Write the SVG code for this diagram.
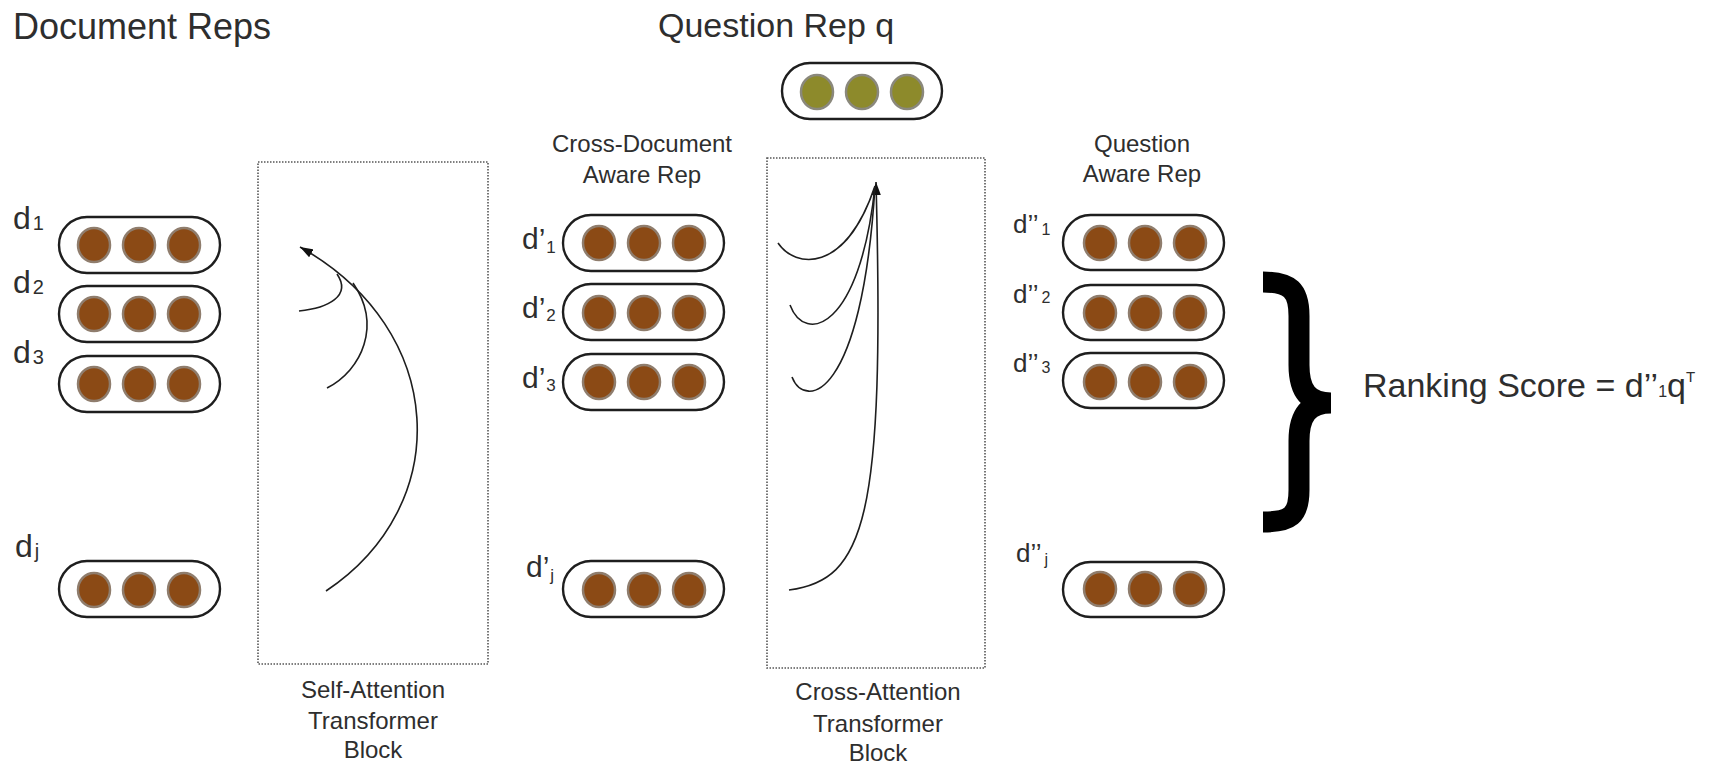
<svg xmlns="http://www.w3.org/2000/svg" width="1721" height="764" viewBox="0 0 1721 764">
<defs>
<style>
text{font-family:"Liberation Sans",Arial,sans-serif;fill:#2e2e2e}
.h1{font-size:36px}
.h2{font-size:34px}
.cap{font-size:24px;text-anchor:middle}
.l0{font-size:32px}
.l1{font-size:30px}
.l2{font-size:26px}
.s0{font-size:20px}
.s1{font-size:17px}
.s2{font-size:16px}
.pill{fill:#fff;stroke:#1e1e1e;stroke-width:2.4}
.dot{fill:#8b4a15;stroke:#8f7d6d;stroke-width:2.5}
.qdot{fill:#8d8a2b;stroke:#8a887c;stroke-width:2.5}
.box{fill:none;stroke:#555;stroke-width:1.6;stroke-dasharray:1.5 1.5}
.conn{fill:none;stroke:#1e1e1e;stroke-width:1.6}
</style>
<marker id="ah" markerUnits="userSpaceOnUse" markerWidth="14" markerHeight="10" refX="13" refY="5" orient="auto">
<path d="M0,0.5 L13,5 L0,9.5 z" fill="#111"/>
</marker>
<g id="trio">
<ellipse class="dot" cx="35" cy="0" rx="16" ry="17"/>
<ellipse class="dot" cx="80" cy="0" rx="16" ry="17"/>
<ellipse class="dot" cx="125" cy="0" rx="16" ry="17"/>
</g>
</defs>
<rect width="1721" height="764" fill="#fff"/>

<g id="title-doc"><text class="h1" x="13" y="39">Document Reps</text></g>
<g id="title-q"><text class="h2" x="658" y="37">Question Rep q</text></g>

<g id="q-rep">
<rect class="pill" x="782" y="63" width="160" height="56" rx="28"/>
<ellipse class="qdot" cx="817" cy="92" rx="16" ry="17"/>
<ellipse class="qdot" cx="862" cy="92" rx="16" ry="17"/>
<ellipse class="qdot" cx="907" cy="92" rx="16" ry="17"/>
</g>

<!-- Document reps -->
<g id="d1">
<text class="l0" x="13" y="229">d<tspan class="s0" dx="2" dy="1">1</tspan></text>
<rect class="pill" x="59" y="217" width="161" height="56" rx="28"/>
<use href="#trio" x="59" y="245"/>
</g>
<g id="d2">
<text class="l0" x="13" y="293">d<tspan class="s0" dx="2" dy="1">2</tspan></text>
<rect class="pill" x="59" y="286" width="161" height="56" rx="28"/>
<use href="#trio" x="59" y="314"/>
</g>
<g id="d3">
<text class="l0" x="13" y="363">d<tspan class="s0" dx="2" dy="1">3</tspan></text>
<rect class="pill" x="59" y="356" width="161" height="56" rx="28"/>
<use href="#trio" x="59" y="384"/>
</g>
<g id="dj">
<text class="l0" x="15" y="557">d<tspan class="s0" dx="2" dy="1">j</tspan></text>
<rect class="pill" x="59" y="561" width="161" height="56" rx="28"/>
<use href="#trio" x="59" y="590"/>
</g>

<!-- Self attention block -->
<g id="self-attn">
<rect class="box" x="258" y="162" width="230" height="502"/>
<text class="cap" x="373" y="698">Self-Attention</text>
<text class="cap" x="373" y="729">Transformer</text>
<text class="cap" x="373" y="758">Block</text>
</g>

<!-- Cross-document aware reps -->
<g id="cross-doc-title">
<text class="cap" x="642" y="152">Cross-Document</text>
<text class="cap" x="642" y="183">Aware Rep</text>
</g>
<g id="dp1">
<text class="l1" x="522" y="249">d’<tspan class="s1" dx="1" dy="4">1</tspan></text>
<rect class="pill" x="563" y="215" width="161" height="56" rx="28"/>
<use href="#trio" x="564" y="243"/>
</g>
<g id="dp2">
<text class="l1" x="522" y="318">d’<tspan class="s1" dx="1" dy="3">2</tspan></text>
<rect class="pill" x="563" y="284" width="161" height="56" rx="28"/>
<use href="#trio" x="564" y="313"/>
</g>
<g id="dp3">
<text class="l1" x="522" y="388">d’<tspan class="s1" dx="1" dy="3">3</tspan></text>
<rect class="pill" x="563" y="354" width="161" height="56" rx="28"/>
<use href="#trio" x="564" y="382"/>
</g>
<g id="dpj">
<text class="l1" x="526" y="577">d’<tspan class="s1" dx="1" dy="4">j</tspan></text>
<rect class="pill" x="563" y="561" width="161" height="56" rx="28"/>
<use href="#trio" x="564" y="590"/>
</g>

<!-- Cross attention block -->
<g id="cross-attn">
<rect class="box" x="767" y="158" width="218" height="510"/>
<text class="cap" x="878" y="700">Cross-Attention</text>
<text class="cap" x="878" y="732">Transformer</text>
<text class="cap" x="878" y="761">Block</text>
</g>

<!-- Question aware reps -->
<g id="q-aware-title">
<text class="cap" x="1142" y="152">Question</text>
<text class="cap" x="1142" y="182">Aware Rep</text>
</g>
<g id="dpp1">
<text class="l2" x="1013" y="233">d’’<tspan class="s2" dx="3" dy="2">1</tspan></text>
<rect class="pill" x="1063" y="215" width="161" height="55" rx="27.5"/>
<use href="#trio" x="1065" y="243"/>
</g>
<g id="dpp2">
<text class="l2" x="1013" y="303">d’’<tspan class="s2" dx="3" dy="0">2</tspan></text>
<rect class="pill" x="1063" y="285" width="161" height="55" rx="27.5"/>
<use href="#trio" x="1065" y="313"/>
</g>
<g id="dpp3">
<text class="l2" x="1013" y="372">d’’<tspan class="s2" dx="3" dy="1">3</tspan></text>
<rect class="pill" x="1063" y="353" width="161" height="55" rx="27.5"/>
<use href="#trio" x="1065" y="382"/>
</g>
<g id="dppj">
<text class="l2" x="1016" y="562">d’’<tspan class="s2" dx="3" dy="3">j</tspan></text>
<rect class="pill" x="1063" y="562" width="161" height="55" rx="27.5"/>
<use href="#trio" x="1065" y="589"/>
</g>

<!-- Brace and ranking score -->
<g id="brace">
<path d="M1263,282 C1290,282 1299,290 1299,316 L1299,365 C1299,390 1308,403 1331,403 C1308,403 1299,416 1299,441 L1299,490 C1299,516 1290,522 1263,522" fill="none" stroke="#000" stroke-width="21"/>
</g>
<g id="ranking">
<text x="1363" y="397" font-size="34">Ranking Score = d’’<tspan font-size="16">1</tspan>q<tspan font-size="15" dy="-15">T</tspan></text>
</g>

<g id="connectors">
<!-- self attention -->
<path class="conn" d="M326,591 C455,505 448,330 300,247" marker-end="url(#ah)"/>
<path class="conn" d="M327,388 C362,370 382,325 353,283"/>
<path class="conn" d="M299,311 C328,308 352,296 337,274"/>
<!-- cross attention -->
<path class="conn" d="M789,590 C865,580 885,520 876,182" marker-end="url(#ah)"/>
<path class="conn" d="M778,243 C795,268 845,275 875,186"/>
<path class="conn" d="M790,305 C805,345 860,330 875,186"/>
<path class="conn" d="M792,377 C805,410 862,400 875,186"/>
</g>
</svg>
